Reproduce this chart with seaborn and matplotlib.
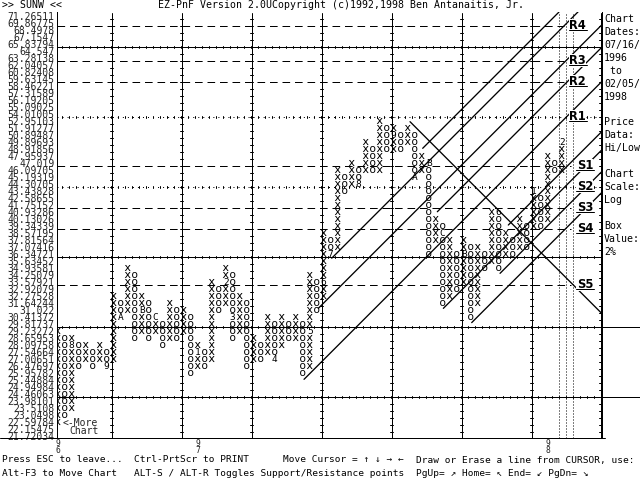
import numpy as np
import pandas as pd
import matplotlib
matplotlib.use("Agg")
import matplotlib.pyplot as plt
from matplotlib.lines import Line2D
import seaborn as sns

## data
# box prices, top row first (2% log boxes)
price_labels = [
    "71.26511", "69.86775", "68.4978", "67.1547", "65.83794", "64.547",
    "63.28138", "62.04057", "60.82408", "59.63145", "58.46221", "57.31589",
    "56.19205", "55.09025", "54.01005", "52.95103", "51.91277", "50.89487",
    "49.89693", "48.91856", "47.95937", "47.019", "46.09705", "45.19319",
    "44.30705", "43.43828", "42.58655", "41.75152", "40.93286", "40.13026",
    "39.34339", "38.57195", "37.81564", "37.07416", "36.34721", "35.63452",
    "34.93581", "34.25079", "33.57921", "32.92079", "32.27528", "31.64244",
    "31.022", "30.41372", "29.81737", "29.23272", "28.65953", "28.09758",
    "27.54664", "27.00651", "26.47697", "25.95782", "25.44884", "24.94984",
    "24.46063", "23.98101", "23.5108", "23.0498", "22.59784", "22.15475",
    "21.72034",
]

# point & figure columns (row index into price_labels, 0 = top)
col_kind = ["X", "O"] * 36 + ["X"]
col_top = [45, 46, 46, 47, 47, 48, 47, 48, 40, 41, 36, 37, 40, 41, 43, 44,
           41, 42, 42, 43, 47, 48, 38, 39, 36, 37, 40, 41, 46, 47, 43, 44,
           43, 44, 43, 44, 37, 38, 31, 32, 22, 23, 21, 22, 18, 19, 15, 16,
           16, 17, 16, 17, 20, 21, 29, 30, 32, 34, 32, 33, 33, 34, 28, 28,
           31, 32, 29, 30, 25, 26, 20, 21, 18]
col_bottom = [58, 57, 56, 50, 49, 50, 49, 50, 49, 43, 42, 46, 45, 46, 45, 47,
              46, 46, 45, 51, 50, 50, 49, 42, 41, 46, 45, 50, 49, 49, 48, 49,
              47, 46, 46, 51, 50, 42, 40, 34, 33, 25, 24, 24, 22, 22, 22, 19,
              19, 19, 18, 23, 22, 34, 32, 41, 40, 39, 38, 43, 41, 36, 35, 36,
              34, 34, 33, 33, 30, 30, 29, 22, 22]

# month markers written in place of a box
month_col = [2, 7, 9, 12, 14, 20, 24, 25, 31, 36, 38, 39, 43, 48, 51, 53, 55, 58, 63, 68, 72]
month_row = [47, 50, 43, 42, 43, 48, 38, 43, 49, 45, 38, 34, 24, 17, 23, 21, 31, 34, 28, 25, 18]
month_text = ["8", "9", "A", "B", "C", "1", "2", "3", "4", "5", "6", "7", "8", "9",
              "A", "B", "C", "B", "6", "1", "2"]

# support / resistance lines
sr_names = ["R4", "R3", "R2", "R1", "S1", "S2", "S3", "S4", "S5"]
sr_rows = [1, 6, 9, 14, 21, 24, 27, 30, 38]
sr_dotted = [False, False, False, True, False, True, False, False, False]

# 45 degree trend lines: start column, start row, length in boxes
up_col = [35.19, 37.23, 39.14, 52.14, 54.23, 55.09, 59.14, 63.19, 64.37]
up_row = [51.9, 41.76, 34.6, 18.9, 27.96, 41.76, 43.8, 36.76, 29.86]
up_len = [42.5, 40.48, 35.2, 19.47, 23.48, 22.62, 18.57, 14.52, 13.34]
down_col = [50.33]
down_row = [15.1]
down_len = [27.38]

year_col = [0, 20, 70]
year_text = ["9\n6", "9\n7", "9\n8"]

side_text = ["Chart", "Dates:", "07/16/", "1996", " to", "02/05/", "1998", "",
             "Price", "Data:", "Hi/Low", "", "Chart", "Scale:", "Log", "",
             "Box", "Value:", "2%"]

## plot
sns.set_theme(style="white")
plt.rcParams["font.family"] = ["DejaVu Sans Mono", "DejaVu Sans"]
plt.rcParams["lines.scale_dashes"] = False
plt.rcParams["mathtext.fontset"] = "dejavusans"

W, H = 640, 480
fig = plt.figure(figsize=(6.4, 4.8), dpi=100)
fig.patch.set_facecolor("white")
# plot area in pixels: x 56.7..601.7, y 12..437.7
ax = fig.add_axes([56.7 / W, 1 - 437.7 / H, 545 / W, 425.7 / H])
ax.set_facecolor("white")

months = {(c, r): t for c, r, t in zip(month_col, month_row, month_text)}
cells = []
for k, (kind, top, bot) in enumerate(zip(col_kind, col_top, col_bottom)):
    for r in range(top, bot + 1):
        if (k, r) not in months:
            cells.append((k, r, kind))
cells = pd.DataFrame(cells, columns=["col", "row", "kind"])

sns.scatterplot(data=cells, x="col", y="row", style="kind",
                markers={"X": r"$\mathsf{x}$", "O": r"$\mathsf{o}$"},
                color="black", s=19, linewidth=0, legend=False, ax=ax, zorder=5)

for (c, r), t in months.items():
    ax.text(c, r, t, ha="center", va="center", fontsize=6.8, color="black", zorder=5)

px = 1.0 / 7  # one pixel in data units (7 px per box both ways)
xl, xr = -0.143, 77.71
yb, yt = 60.24, -0.571
LW = 0.72
lk = dict(color="black", lw=LW, snap=True)

# grid: solid verticals every 10 columns, horizontals every 10 rows
vcols = [7.7 + 10 * m for m in range(7)] + [xr - px]
tick_rows = np.arange(0, 61) + 0.43
for x in vcols:
    ax.plot([x, x], [yb, yt + 0.2], **lk)
    for y in tick_rows:
        ax.plot([x - 1.3 * px, x + 1.3 * px], [y, y], **lk)
for x in [71.6, 72.6, 73.6]:
    ax.plot([x, x], [yb, yt + 0.2], ls=(0, (0.72, 1.44)), **lk)

grid_rows = [4, 14, 24, 34, 44, 54]
tick_cols = np.arange(0, 78) + 0.6
for r in grid_rows:
    y = r + 0.43
    xe = 83.2 if r in (44, 54) else xr
    if r in (14, 24):
        ax.plot([xl, xe], [y, y], ls=(0, (0.72, 2.9)), **lk)
    else:
        ax.plot([xl, xe], [y, y], clip_on=False, **lk)
    for x in tick_cols:
        ax.plot([x, x], [y - 1.3 * px, y + 1.3 * px], **lk)

# support / resistance
for name, r, dot in zip(sr_names, sr_rows, sr_dotted):
    y = r + 0.43
    lx = 74.3 if name.startswith("R") else 75.3
    if not dot:
        ax.plot([xl, lx - 2.0], [y, y], ls=(0, (5.5, 3.5)), **lk)
    ax.text(lx, y - 0.05, name, ha="center", va="center", fontsize=8.3,
            fontweight="bold", family="DejaVu Sans", color="black", zorder=6,
            bbox=dict(facecolor="white", edgecolor="none", pad=0.2))
    ax.plot([lx - 1.3, lx + 1.3], [y + 0.62, y + 0.62], zorder=7, **lk)

# trend lines
for c, r, n in zip(up_col, up_row, up_len):
    ax.plot([c, c + n], [r, r - n], color="black", lw=0.95)
for c, r, n in zip(down_col, down_row, down_len):
    ax.plot([c, c + n], [r, r + n], color="black", lw=0.95)

ax.set_xlim(xl, xr)
ax.set_ylim(yb, yt)
ax.set_xticks([])
ax.set_yticks(range(len(price_labels)))
ax.set_yticklabels(price_labels, fontsize=7.0)
ax.tick_params(axis="y", length=0, pad=1.5)
ax.set_xlabel("")
ax.set_ylabel("")
for s in ["top", "bottom"]:
    ax.spines[s].set_visible(False)
for s in ["left", "right"]:
    ax.spines[s].set_color("black")
    ax.spines[s].set_linewidth(LW)
ax.grid(False)

# more chart note and year markers
ax.text(0.7, 58.1, "<-More", ha="left", va="center", fontsize=7)
ax.text(1.7, 59.3, "Chart", ha="left", va="center", fontsize=7)
for c, t in zip(year_col, year_text):
    ax.text(c, yb + 0.25, t, ha="center", va="top", fontsize=5.8, linespacing=0.7,
            clip_on=False)

# bottom axis line runs under the price labels
fig.add_artist(Line2D([0, 605 / W], [1 - 437.7 / H] * 2, color="black", lw=LW, snap=True))

def ftext(x, y, s, size=7.1):
    fig.text(x / W, 1 - y / H, s, ha="left", va="center", fontsize=size, color="black")

ftext(2, 5, ">> SUNW <<")
ftext(158, 5, "EZ-PnF Version 2.0UCopyright (c)1992,1998 Ben Antanaitis, Jr.")
for j, t in enumerate(side_text):
    ftext(604, 19.3 + 12.9 * j, t)

ftext(2, 460, "Press ESC to leave...", 6.8)
ftext(134, 460, "Ctrl-PrtScr to PRINT", 6.8)
ftext(283, 460, "Move Cursor = \u2191 \u2193 \u2192 \u2190", 6.8)
ftext(416, 460, "Draw or Erase a line from CURSOR, use:", 6.8)
ftext(2, 473, "Alt-F3 to Move Chart", 6.8)
ftext(134, 473, "ALT-S / ALT-R Toggles Support/Resistance points", 6.8)
ftext(416, 473, "PgUp= \u2197 Home= \u2196 End= \u2199 PgDn= \u2198", 6.8)

fig.savefig("out.png", dpi=100, facecolor="white")
